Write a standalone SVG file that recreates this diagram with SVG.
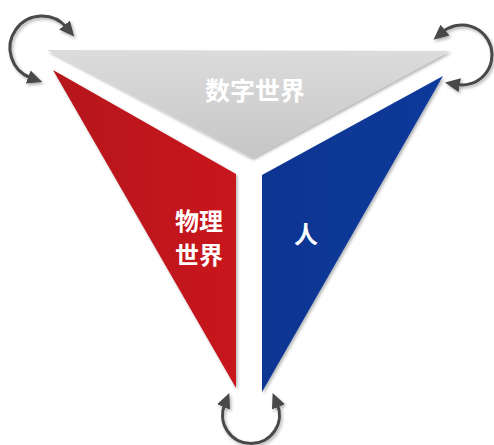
<svg xmlns="http://www.w3.org/2000/svg" width="494" height="445" viewBox="0 0 494 445">
<style>
.arc{fill:none;stroke:#484848;stroke-width:3;marker-start:url(#ah);marker-end:url(#ah)}
.lbl{font-family:"Noto Sans CJK SC","Noto Sans CJK JP",sans-serif;font-weight:bold;fill:#ffffff;text-anchor:middle}
</style>
<defs>
<marker id="ah" markerUnits="userSpaceOnUse" markerWidth="16" markerHeight="16" refX="3" refY="8" orient="auto-start-reverse" viewBox="0 0 16 16">
<path d="M0,1 L15,8 L0,15 z" fill="#484848"/>
</marker>
<filter id="sh" x="-20%" y="-20%" width="140%" height="140%">
<feDropShadow dx="1.5" dy="2" stdDeviation="1.5" flood-color="#000" flood-opacity="0.3"/>
</filter>
<linearGradient id="gg" x1="0" y1="0" x2="0" y2="1">
<stop offset="0" stop-color="#dcdcdc"/>
<stop offset="1" stop-color="#c6c6c6"/>
</linearGradient>
<linearGradient id="rg" x1="0" y1="0" x2="1" y2="0">
<stop offset="0" stop-color="#b5141c"/>
<stop offset="1" stop-color="#c8161f"/>
</linearGradient>
<linearGradient id="bg" x1="0" y1="0" x2="1" y2="0">
<stop offset="0" stop-color="#0b3592"/>
<stop offset="1" stop-color="#0d3a9a"/>
</linearGradient>
</defs>
<g id="digital">
<polygon points="47,50 450,51 252,158" fill="url(#gg)" filter="url(#sh)"/>
<text class="lbl" x="255" y="100" font-size="25">数字世界</text>
</g>
<g id="physical">
<polygon points="53,70 236,174 236,388" fill="url(#rg)" filter="url(#sh)"/>
<text class="lbl" x="199" y="230" font-size="24">物理</text>
<text class="lbl" x="199" y="264" font-size="24">世界</text>
</g>
<g id="human">
<polygon points="262,175 443,76 262,392" fill="url(#bg)" filter="url(#sh)"/>
<text class="lbl" x="306" y="243" font-size="24">人</text>
</g>
<g id="connectors" filter="url(#sh)">
<path class="arc" d="M 66.5 27.4 A 32 32 0 1 0 31 78"/>
<path class="arc" d="M 442.7 32 A 30 30 0 1 1 456.8 84.5"/>
<path class="arc" d="M 277.3 404.1 A 28.5 28.5 0 1 1 224.7 404.1"/>
</g>
</svg>
